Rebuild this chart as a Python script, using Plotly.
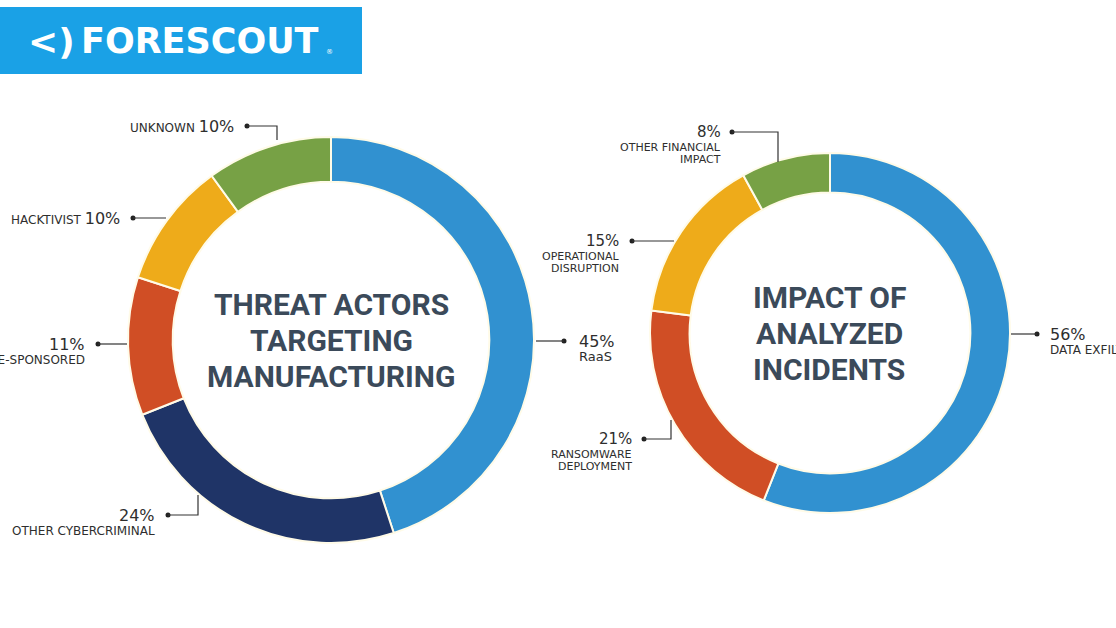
import plotly.graph_objects as go

W, H = 1116, 628

# data
actor_labels = ["RaaS", "Other cybercriminal", "State-sponsored", "Hacktivist", "Unknown"]
actor_values = [45, 24, 11, 10, 10]
impact_labels = ["Data exfiltration", "Ransomware deployment", "Operational disruption",
                 "Other financial impact"]
impact_values = [56, 21, 15, 8]

BLUE = "#3191d0"
NAVY = "#1f3467"
RED = "#d04e25"
YELLOW = "#eeab1a"
GREEN = "#77a145"
actor_colors = [BLUE, NAVY, RED, YELLOW, GREEN]
impact_colors = [BLUE, RED, YELLOW, GREEN]

TXT = "#2e2e2e"
TITLE = "#3b4a5a"


def domain(cx, cy, r):
    return dict(x=[(cx - r) / W, (cx + r) / W], y=[1 - (cy + r) / H, 1 - (cy - r) / H])


fig = go.Figure()

fig.add_trace(go.Pie(
    values=actor_values, labels=actor_labels, sort=False, direction="clockwise",
    hole=0.78, domain=domain(331, 340, 203), textinfo="none", hoverinfo="label+percent",
    marker=dict(colors=actor_colors, line=dict(color="#fffbe8", width=2)),
))
fig.add_trace(go.Pie(
    values=impact_values, labels=impact_labels, sort=False, direction="clockwise",
    hole=0.78, domain=domain(830, 333, 180), textinfo="none", hoverinfo="label+percent",
    marker=dict(colors=impact_colors, line=dict(color="#fffbe8", width=2)),
))

# label layout: (pct, lines, x, y, anchor, pct size, line size)
labels = [
    ("45%", ["RaaS"], 577, 341, "left", 16, 13),
    ("24%", ["OTHER CYBERCRIMINAL"], 157, 515, "right", 16, 12),
    ("11%", ["STATE-SPONSORED"], 87, 344, "right", 16, 12),
    ("56%", ["DATA EXFILTRATION"], 1048, 334, "left", 16, 12),
    ("21%", ["RANSOMWARE", "DEPLOYMENT"], 634, 439, "right", 15, 11),
    ("15%", ["OPERATIONAL", "DISRUPTION"], 621, 241, "right", 15, 11),
    ("8%", ["OTHER FINANCIAL", "IMPACT"], 723, 132, "right", 15, 11),
]
inline_labels = [
    ("UNKNOWN", "10%", 236, 126),
    ("HACKTIVIST", "10%", 122, 218),
]
# leader lines: list of points, first point gets the dot
leaders = [
    [(564, 341), (536, 341)],
    [(168, 515), (198, 515), (198, 495)],
    [(98, 344), (127, 344)],
    [(1037, 334), (1011, 334)],
    [(644, 439), (671, 439), (671, 420)],
    [(632, 241), (674, 241)],
    [(732, 132), (778, 132), (778, 162)],
    [(247, 126), (277, 126), (277, 140)],
    [(133, 218), (166, 218)],
]

ann = []
for pct, lines, x, y, anc, ps, ls in labels:
    ann.append(dict(x=x, y=y, text=pct, xanchor=anc, yanchor="middle", showarrow=False,
                    font=dict(family="DejaVu Sans", size=ps, color=TXT)))
    for i, t in enumerate(lines):
        ann.append(dict(x=x, y=y + 15 + i * 12.5 + (1 if ls == 12 else 0), text=t,
                        xanchor=anc, yanchor="middle", showarrow=False,
                        font=dict(family="DejaVu Sans", size=ls, color=TXT)))
for name, pct, x, y in inline_labels:
    ann.append(dict(x=x, y=y, text=name + " <span style='font-size:16px'>" + pct + "</span>",
                    xanchor="right", yanchor="middle", showarrow=False,
                    font=dict(family="DejaVu Sans", size=12, color=TXT)))

# centre titles
for i, t in enumerate(["THREAT ACTORS", "TARGETING", "MANUFACTURING"]):
    ann.append(dict(x=331, y=304 + i * 36, text="<b>" + t + "</b>", showarrow=False,
                    font=dict(family="Roboto", size=30, color=TITLE)))
for i, t in enumerate(["IMPACT OF", "ANALYZED", "INCIDENTS"]):
    ann.append(dict(x=829, y=297 + i * 36, text="<b>" + t + "</b>", showarrow=False,
                    font=dict(family="Roboto", size=30, color=TITLE)))

# logo
ann.append(dict(x=26, y=41, text="<b>&lt;)</b>", xanchor="left", showarrow=False,
                font=dict(family="DejaVu Sans", size=36, color="white")))
ann.append(dict(x=79, y=41, text="<b>FORESCOUT</b>", xanchor="left", showarrow=False,
                font=dict(family="DejaVu Sans", size=35, color="white")))
ann.append(dict(x=324, y=52, text="®", xanchor="left", showarrow=False,
                font=dict(family="DejaVu Sans", size=7, color="white")))

shapes = [dict(type="rect", x0=0, x1=362, y0=7, y1=74, fillcolor="#1aa1e6",
               line=dict(width=0), layer="below")]
dot_x, dot_y = [], []
for pts in leaders:
    path = "M " + " L ".join(f"{px},{py}" for px, py in pts)
    shapes.append(dict(type="path", path=path, line=dict(color="#333333", width=1.2)))
    dot_x.append(pts[0][0])
    dot_y.append(pts[0][1])

fig.add_trace(go.Scatter(x=dot_x, y=dot_y, mode="markers", hoverinfo="skip",
                         marker=dict(size=5, color="#222222")))

for a in ann:
    a.update(xref="x", yref="y")

fig.update_layout(
    width=W, height=H, margin=dict(l=0, r=0, t=0, b=0),
    paper_bgcolor="white", plot_bgcolor="rgba(0,0,0,0)", showlegend=False,
    xaxis=dict(range=[0, W], visible=False, fixedrange=True),
    yaxis=dict(range=[H, 0], visible=False, fixedrange=True),
    annotations=ann, shapes=shapes,
)

# drop the page's default body margin so the figure sits at the window's corner
fig.write_html("out.html", config={"displayModeBar": False},
               post_script="document.body.style.margin='0';")
